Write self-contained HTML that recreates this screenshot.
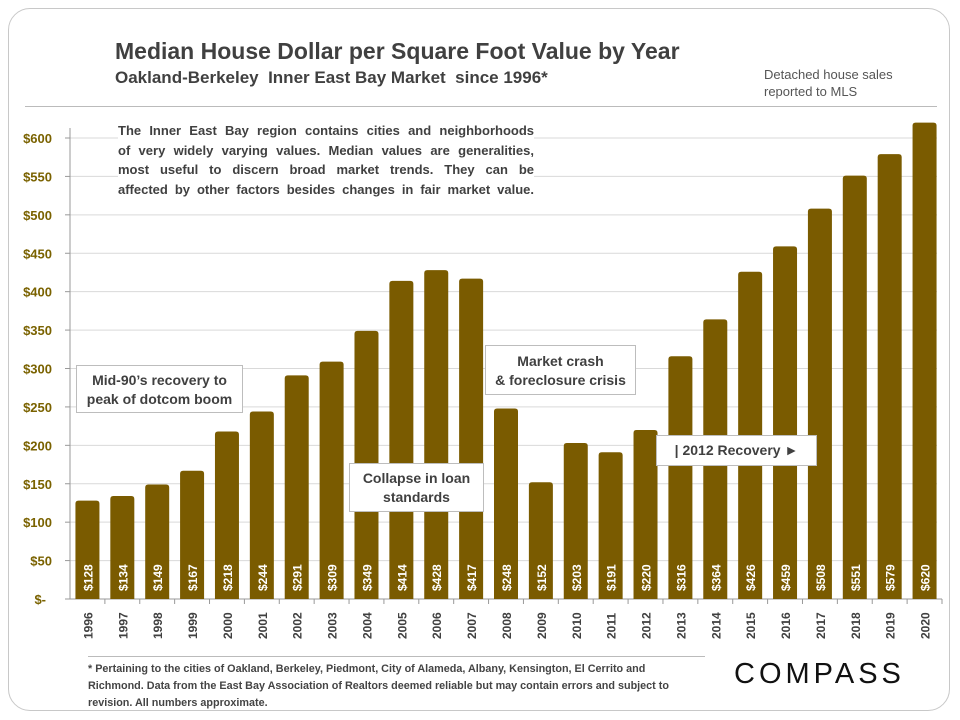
<!DOCTYPE html>
<html><head><meta charset="utf-8"><style>
body{margin:0;width:960px;height:720px;background:#fff;font-family:"Liberation Sans",sans-serif;overflow:hidden}
.card{position:absolute;left:8px;top:8px;width:942px;height:703px;border:1px solid #c8c8c8;border-radius:22px;box-sizing:border-box}
.t{position:absolute;color:#404040;font-weight:bold}
.box{position:absolute;background:#fff;border:1px solid #bdbdbd;color:#404040;font-weight:bold;font-size:14px;text-align:center;line-height:19px;box-sizing:border-box}
.jl{text-align:justify;text-align-last:justify;white-space:nowrap;height:19.5px}
</style></head><body>
<div class="card"></div>
<div class="t" style="left:115px;top:38px;font-size:23px">Median House Dollar per Square Foot Value by Year</div>
<div class="t" style="left:115px;top:68px;font-size:17px">Oakland-Berkeley&nbsp; Inner East Bay Market&nbsp; since 1996*</div>
<div class="t" style="left:764px;top:66px;font-size:13px;font-weight:normal;color:#555;line-height:17px">Detached house sales<br>reported to MLS</div>
<div style="position:absolute;left:25px;top:106px;width:912px;height:1px;background:#bbb"></div>
<svg id="chart" width="960" height="720" style="position:absolute;left:0;top:0"></svg>
<div class="t" style="left:118px;top:121px;width:416px;font-size:13px;line-height:19.5px;color:#404040;background:#fff">
<div class="jl">The Inner East Bay region contains cities and neighborhoods</div>
<div class="jl">of very widely varying values. Median values are generalities,</div>
<div class="jl">most useful to discern broad market trends. They can be</div>
<div class="jl">affected by other factors besides changes in fair market value.</div>
</div>
<div class="box" style="left:76px;top:365px;width:167px;height:48px;padding-top:5px">Mid-90’s recovery to<br>peak of dotcom boom</div>
<div class="box" style="left:349px;top:463px;width:135px;height:49px;padding-top:5px">Collapse in loan<br>standards</div>
<div class="box" style="left:485px;top:345px;width:151px;height:50px;padding-top:6px">Market crash<br>&amp; foreclosure crisis</div>
<div class="box" style="left:656px;top:435px;width:161px;height:31px;padding-top:5px">| 2012 Recovery ►</div>
<div style="position:absolute;left:88px;top:656px;width:617px;height:1px;background:#bbb"></div>
<div class="t" style="left:88px;top:661px;width:612px;font-size:10.8px;line-height:17px;color:#444">* Pertaining to the cities of Oakland, Berkeley, Piedmont, City of Alameda, Albany, Kensington, El Cerrito and Richmond. Data from the East Bay Association of Realtors deemed reliable but may contain errors and subject to revision. All numbers approximate.</div>
<div style="position:absolute;left:734px;top:658px;font-size:29px;letter-spacing:4px;color:#111">COMPASS</div>
<script>
const years=["1996","1997","1998","1999","2000","2001","2002","2003","2004","2005","2006","2007","2008","2009","2010","2011","2012","2013","2014","2015","2016","2017","2018","2019","2020"];
const values=[128,134,149,167,218,244,291,309,349,414,428,417,248,152,203,191,220,316,364,426,459,508,551,579,620];
const yTicks=[0,50,100,150,200,250,300,350,400,450,500,550,600];
const NS="http://www.w3.org/2000/svg";
const svg=document.getElementById('chart');
const x0=70,x1=942,yB=599,yT=138,maxV=600;
const band=(x1-x0)/years.length;
const y=v=>yB-(v/maxV)*(yB-yT);
const xc=i=>x0+band*(i+0.5);
function mk(t,a){const e=document.createElementNS(NS,t);for(const k in a)e.setAttribute(k,a[k]);svg.appendChild(e);return e;}
yTicks.forEach(v=>{
  if(v>0){const g=mk('line',{x1:x0,x2:x1-5,y1:y(v),y2:y(v),stroke:'#d9d9d9','stroke-width':1});
  
  }
  const tk=mk('line',{x1:x0-5,x2:x0,y1:y(v),y2:y(v),stroke:'#999'});
  
  
  const t=mk('text',{x:x0-18,y:y(v)+5,'text-anchor':'end','font-size':13,'font-weight':'bold',fill:'#7a6200','font-family':'Liberation Sans, sans-serif'});
  t.textContent=v===0?'$-':'$'+v;
  if(v===0)t.setAttribute('x',x0-24);
  
  
});
const ax=mk('line',{x1:x0,x2:x0,y1:yT-10,y2:yB,stroke:'#999'});


const bx=mk('line',{x1:x0,x2:x1,y1:yB,y2:yB,stroke:'#999'});


values.forEach((v,i)=>{
  const w=24,cx=xc(i);
  const r=mk('path',{d:`M${cx-w/2},${yB} L${cx-w/2},${y(v)+3} Q${cx-w/2},${y(v)} ${cx-w/2+3},${y(v)} L${cx+w/2-3},${y(v)} Q${cx+w/2},${y(v)} ${cx+w/2},${y(v)+3} L${cx+w/2},${yB}Z`,fill:'#7a5b00'});
  
  
  const l=mk('text',{transform:`translate(${cx+5},${yB-8}) rotate(-90)`,'font-size':12,'font-weight':'bold',fill:'#fff','font-family':'Liberation Sans, sans-serif'});
  l.textContent='$'+v;
  
  
  const tk=mk('line',{x1:x0+band*(i+1),x2:x0+band*(i+1),y1:yB,y2:yB+5,stroke:'#999'});
  
  
  const yl=mk('text',{transform:`translate(${cx+5},${yB+40}) rotate(-90)`,'font-size':12,'font-weight':'bold',fill:'#404040','font-family':'Liberation Sans, sans-serif'});
  yl.textContent=years[i];
  
  
});
</script>
</body></html>
